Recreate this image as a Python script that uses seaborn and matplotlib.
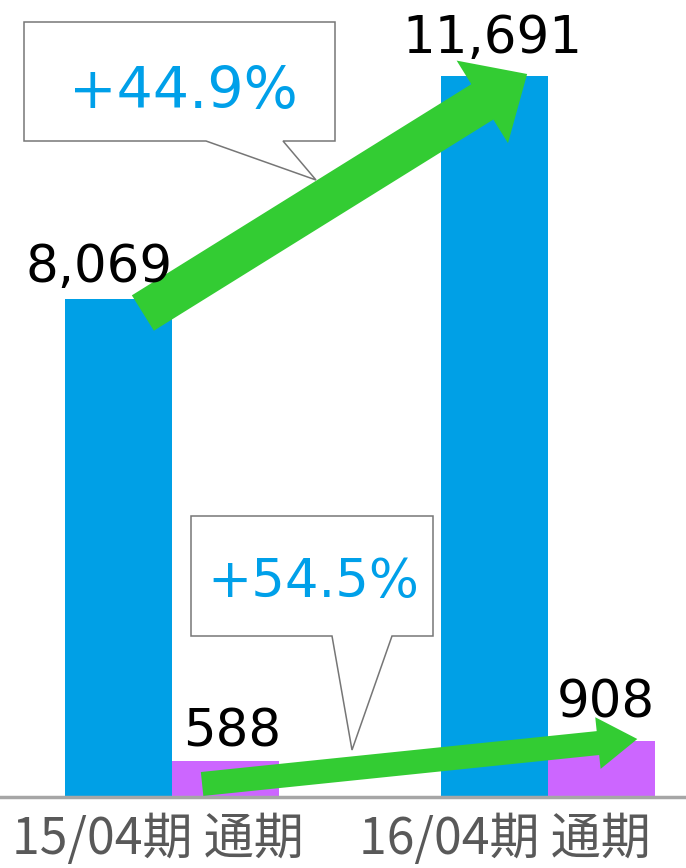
import matplotlib
matplotlib.use("Agg")
import matplotlib.pyplot as plt
from matplotlib.patches import FancyArrowPatch, Polygon
from matplotlib.transforms import ScaledTranslation
import seaborn as sns
import pandas as pd

# ---- data ----
periods = ["15/04期 通期", "16/04期 通期"]
series = ["売上高", "営業利益"]
sales = [8069, 11691]
profit = [588, 908]
growth_labels = ["+44.9%", "+54.5%"]

df = pd.DataFrame({
    "period": periods * 2,
    "series": [series[0]] * len(periods) + [series[1]] * len(periods),
    "value": sales + profit,
})

# ---- style ----
sns.set_style("white")
plt.rcParams["font.family"] = ["DejaVu Sans", "Noto Sans CJK JP"]

W, H = 686, 868
fig = plt.figure(figsize=(W / 100, H / 100), dpi=100)
ax = fig.add_axes([0, 1 - 797 / H, 1, 797 / H])

sns.barplot(data=df, x="period", y="value", hue="series",
            palette=["#00a0e6", "#cc66ff"], width=0.57, saturation=1,
            linewidth=0, legend=False, ax=ax)

ax.set_xlim(-172 / 376, 514 / 376)
ax.set_ylim(0, 797 / 0.0617)
ax.set_yticks([])
ax.set_xlabel("")
ax.set_ylabel("")
for s in ["left", "right", "top"]:
    ax.spines[s].set_visible(False)
ax.spines["bottom"].set_color("#a6a6a6")
ax.spines["bottom"].set_linewidth(2.5)

ax.tick_params(axis="x", length=0, pad=12, labelsize=36, labelcolor="#595959")
tick_dx = [-14, -43]  # px
for lbl, dx in zip(ax.get_xticklabels(), tick_dx):
    lbl.set_fontfamily(["Noto Sans CJK JP", "DejaVu Sans"])
    lbl.set_transform(lbl.get_transform() + ScaledTranslation(dx / 100, 0, fig.dpi_scale_trans))

# ---- value labels ----
values = [sales, profit]
label_dx = [[-14, -1.5], [5, 3]]     # points
label_dy = [[12.5, 16.5], [10, 17]]  # points
for i, cont in enumerate(ax.containers):
    for j, bar in enumerate(cont):
        x = bar.get_x() + bar.get_width() / 2
        ax.annotate(f"{values[i][j]:,}", (x, bar.get_height()),
                    xytext=(label_dx[i][j], label_dy[i][j]), textcoords="offset points",
                    ha="center", va="baseline", fontsize=37, color="black",
                    family="DejaVu Sans", zorder=6)

# ---- callouts (figure pixel coords) ----
def px(x, y):
    return (x / W, 1 - y / H)

boxes = [
    [(24, 22), (335, 22), (335, 141), (283, 141), (316, 180), (206, 141), (24, 141)],
    [(191, 516), (433, 516), (433, 636), (392, 636), (352, 750), (332, 636), (191, 636)],
]
for pts in boxes:
    ax.add_patch(Polygon([px(*p) for p in pts], closed=True, facecolor="white",
                         edgecolor="#767676", linewidth=1.1,
                         transform=fig.transFigure, zorder=3, clip_on=False))

text_pos = [(183, 108), (313, 597)]
text_size = [41, 38]
for lab, (tx, ty), fs in zip(growth_labels, text_pos, text_size):
    ax.text(*px(tx, ty), lab, transform=fig.transFigure, ha="center", va="baseline",
            fontsize=fs, color="#00a0e9", family="DejaVu Sans", zorder=4)

# ---- growth arrows ----
def centre(bar):
    return bar.get_x() + bar.get_width() / 2

def grow_arrow(bar_a, bar_b, da, db, tail_w, head_w, head_l):
    a = (centre(bar_a) + da[0], bar_a.get_height() + da[1])
    b = (centre(bar_b) + db[0], bar_b.get_height() + db[1])
    ax.add_patch(FancyArrowPatch(
        a, b,
        arrowstyle=f"simple,head_length={head_l},head_width={head_w},tail_width={tail_w}",
        mutation_scale=1, color="#33cc33", linewidth=0,
        shrinkA=0, shrinkB=0, zorder=5))

blue, purple = ax.containers[0], ax.containers[1]
grow_arrow(blue[0], blue[1], (0.065, -225), (0.087, 27), 30, 70, 38)
grow_arrow(purple[0], purple[1], (-0.0625, -377), (0.095, 32), 17.3, 37.4, 28.5)

fig.savefig("out.png", dpi=100, facecolor="white")
